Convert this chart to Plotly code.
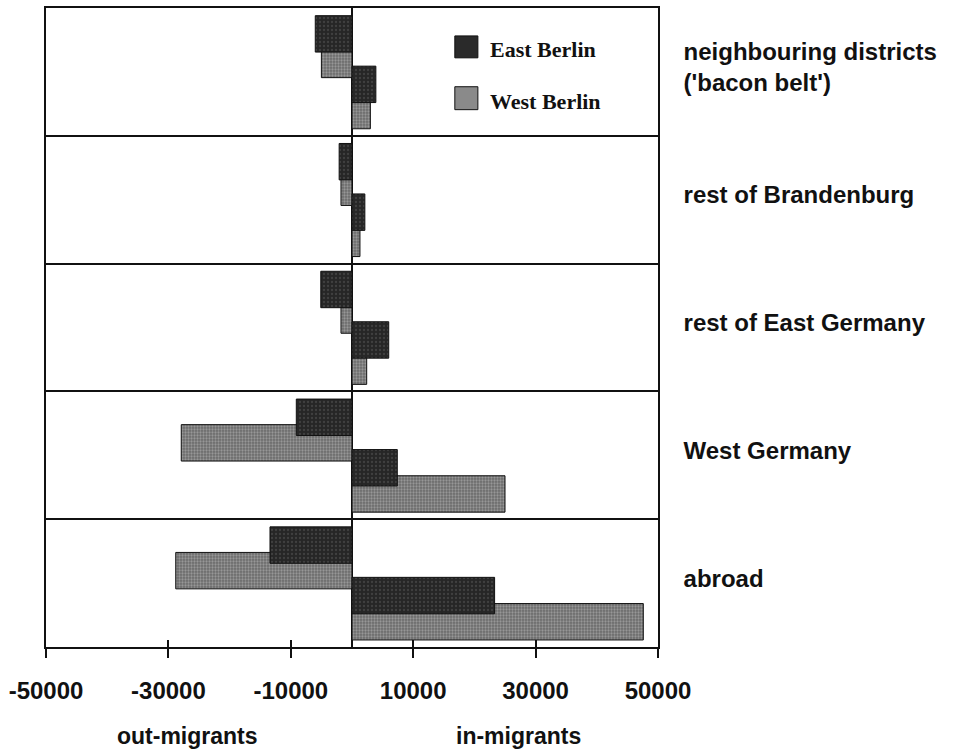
import plotly.graph_objects as go

# ---- data ----
regions = [
    "neighbouring districts<br>('bacon belt')",
    "rest of Brandenburg",
    "rest of East Germany",
    "West Germany",
    "abroad",
]
east_out = [-6000, -2100, -5100, -9100, -13400]
west_out = [-5000, -1800, -1800, -27900, -28800]
east_in = [3900, 2100, 6000, 7400, 23300]
west_in = [3000, 1300, 2400, 25000, 47600]
x_ticks = [-50000, -30000, -10000, 10000, 30000, 50000]
x_tick_text = ["-50000", "-30000", "-10000", "10000", "30000", "50000"]
series_names = ["East Berlin", "West Berlin"]

DARK = "#2a2a2a"
GRAY = "#8a8a8a"
BAR_W = 0.285

dark_pat = dict(shape=".", bgcolor="#262626", fgcolor="#5a5a5a", size=4, solidity=0.25)
gray_pat = dict(shape=".", bgcolor="#6a6a6a", fgcolor="#c4c4c4", size=3, solidity=0.45)

fig = go.Figure()

def add_bar(xvals, offset, color, pat, name):
    fig.add_trace(go.Bar(
        x=xvals, y=regions, orientation="h", name=name,
        width=BAR_W, offset=offset, showlegend=False,
        marker=dict(color=color, pattern=pat, line=dict(color="#111111", width=1)),
    ))

# gray (West Berlin) first so the dark bars sit on top
add_bar(west_out, -0.24, GRAY, gray_pat, series_names[1])
add_bar(west_in, 0.16, GRAY, gray_pat, series_names[1])
add_bar(east_out, -0.44, DARK, dark_pat, series_names[0])
add_bar(east_in, -0.045, DARK, dark_pat, series_names[0])

# invisible trace to carry the crossing inside ticks axis
fig.add_trace(go.Scatter(x=[0], y=[regions[0]], xaxis="x2", mode="markers",
                         marker=dict(opacity=0), showlegend=False, hoverinfo="skip"))

label_font = dict(family="Liberation Sans", size=24, color="#111111", weight="bold")

fig.update_layout(
    width=953, height=751,
    margin=dict(l=46, r=295, t=6, b=104),
    paper_bgcolor="white", plot_bgcolor="white",
    barmode="overlay",
    xaxis=dict(
        range=[-50000, 50000], tickvals=x_ticks, ticktext=x_tick_text,
        ticks="outside", ticklen=9, tickwidth=1.5, tickcolor="#111111",
        showgrid=False, zeroline=True, zerolinecolor="#111111", zerolinewidth=1.5,
        showline=True, linecolor="#111111", linewidth=1.5, mirror=True,
        tickfont=label_font, ticklabelstandoff=12,
    ),
    xaxis2=dict(
        range=[-50000, 50000], overlaying="x", anchor="y", side="bottom",
        tickvals=x_ticks, ticks="inside", ticklen=7, tickwidth=1.5, tickcolor="#111111",
        showticklabels=False, showgrid=False, zeroline=False, showline=False,
    ),
    yaxis=dict(
        range=[4.5, -0.5], side="right", tickson="boundaries", ticks="",
        showgrid=True, gridcolor="#111111", gridwidth=1.5,
        showline=True, linecolor="#111111", linewidth=1.5, mirror=True,
        tickfont=dict(family="Liberation Sans", size=24, color="#111111", weight="bold"),
        ticklabelstandoff=19, ticklabelshift=5,
    ),
)

# axis captions
cap_font = dict(family="Liberation Sans", size=23, color="#111111", weight="bold")
fig.add_annotation(text="out-migrants", x=0.2307, y=-0.14, xref="paper", yref="paper",
                   showarrow=False, font=cap_font, xanchor="center", yanchor="middle")
fig.add_annotation(text="in-migrants", x=0.7726, y=-0.14, xref="paper", yref="paper",
                   showarrow=False, font=cap_font, xanchor="center", yanchor="middle")

# legend (drawn as key boxes + text)
legend_items = [
    (series_names[0], DARK, 0.9563, 0.922, 0.9345),
    (series_names[1], GRAY, 0.8768, 0.8409, 0.8534),
]
for name, col, ytop, ybot, ytxt in legend_items:
    fig.add_shape(type="rect", xref="paper", yref="paper",
                  x0=0.668, x1=0.7057, y0=ybot, y1=ytop,
                  fillcolor=col, line=dict(color="#111111", width=1))
    fig.add_annotation(text=name, x=0.7219, y=ytxt, xref="paper", yref="paper",
                       showarrow=False, xanchor="left", yanchor="middle",
                       font=dict(family="Liberation Serif", size=22, color="#111111", weight="bold"))

fig.write_html("out.html", config={"displayModeBar": False},
               post_script="document.body.style.margin='0';")
